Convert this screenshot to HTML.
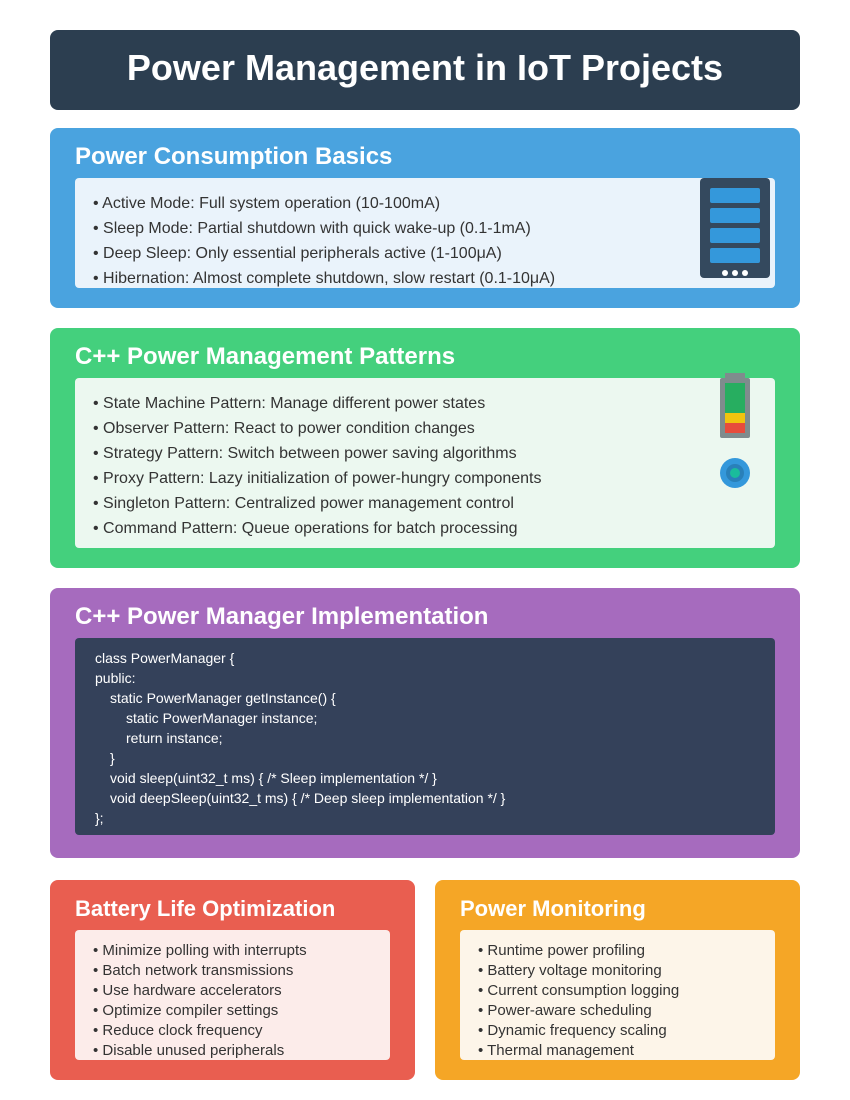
<!DOCTYPE html>
<html><head><meta charset="utf-8"><style>body{margin:0;background:#fff}svg{display:block}text{font-family:"Liberation Sans",Arial,sans-serif}</style></head><body>
<svg width="850" height="1100" viewBox="0 0 850 1100" xmlns="http://www.w3.org/2000/svg">
<rect x="50" y="30" width="750" height="80" rx="8" fill="#2c3e50"/>
<text x="425" y="80" text-anchor="middle" font-size="36" font-weight="bold" fill="#fff">Power Management in IoT Projects</text>

<rect x="50" y="128" width="750" height="180" rx="8" fill="#4aa3df"/>
<text x="75" y="164" font-size="24" font-weight="bold" fill="#fff">Power Consumption Basics</text>
<rect x="75" y="178" width="700" height="110" rx="4" fill="#eaf3fb"/>
<g font-size="16" fill="#333">
<text x="93" y="208">• Active Mode: Full system operation (10-100mA)</text>
<text x="93" y="233">• Sleep Mode: Partial shutdown with quick wake-up (0.1-1mA)</text>
<text x="93" y="258">• Deep Sleep: Only essential peripherals active (1-100μA)</text>
<text x="93" y="283">• Hibernation: Almost complete shutdown, slow restart (0.1-10μA)</text>
</g>
<rect x="700" y="178" width="70" height="100" rx="4" fill="#34495e"/>
<rect x="710" y="188" width="50" height="15" rx="2" fill="#3498db"/>
<rect x="710" y="208" width="50" height="15" rx="2" fill="#3498db"/>
<rect x="710" y="228" width="50" height="15" rx="2" fill="#3498db"/>
<rect x="710" y="248" width="50" height="15" rx="2" fill="#3498db"/>
<circle cx="725" cy="273" r="3" fill="#fff"/><circle cx="735" cy="273" r="3" fill="#fff"/><circle cx="745" cy="273" r="3" fill="#fff"/>

<rect x="50" y="328" width="750" height="240" rx="8" fill="#44d07d"/>
<text x="75" y="364" font-size="24" font-weight="bold" fill="#fff">C++ Power Management Patterns</text>
<rect x="75" y="378" width="700" height="170" rx="4" fill="#ecf8f0"/>
<g font-size="16" fill="#333">
<text x="93" y="408">• State Machine Pattern: Manage different power states</text>
<text x="93" y="433">• Observer Pattern: React to power condition changes</text>
<text x="93" y="458">• Strategy Pattern: Switch between power saving algorithms</text>
<text x="93" y="483">• Proxy Pattern: Lazy initialization of power-hungry components</text>
<text x="93" y="508">• Singleton Pattern: Centralized power management control</text>
<text x="93" y="533">• Command Pattern: Queue operations for batch processing</text>
</g>
<rect x="725" y="373" width="20" height="6" fill="#7f8c8d"/>
<rect x="720" y="378" width="30" height="60" rx="2" fill="#7f8c8d"/>
<rect x="725" y="383" width="20" height="30" fill="#27ae60"/>
<rect x="725" y="413" width="20" height="10" fill="#f1c40f"/>
<rect x="725" y="423" width="20" height="10" fill="#e74c3c"/>
<circle cx="735" cy="473" r="15" fill="#3498db"/><circle cx="735" cy="473" r="9" fill="#2980b9"/><circle cx="735" cy="473" r="5" fill="#1abc9c"/>

<rect x="50" y="588" width="750" height="270" rx="8" fill="#a66bbe"/>
<text x="75" y="624" font-size="24" font-weight="bold" fill="#fff">C++ Power Manager Implementation</text>
<rect x="75" y="638" width="700" height="197" rx="4" fill="#34415a"/>
<g font-size="14" fill="#fff">
<text x="95" y="663">class PowerManager {</text>
<text x="95" y="683">public:</text>
<text x="110" y="703">static PowerManager getInstance() {</text>
<text x="126" y="723">static PowerManager instance;</text>
<text x="126" y="743">return instance;</text>
<text x="110" y="763">}</text>
<text x="110" y="783">void sleep(uint32_t ms) { /* Sleep implementation */ }</text>
<text x="110" y="803">void deepSleep(uint32_t ms) { /* Deep sleep implementation */ }</text>
<text x="95" y="823">};</text>
</g>

<rect x="50" y="880" width="365" height="200" rx="8" fill="#e95e50"/>
<text x="75" y="916" font-size="22" font-weight="bold" fill="#fff">Battery Life Optimization</text>
<rect x="75" y="930" width="315" height="130" rx="4" fill="#fcecea"/>
<g font-size="15" fill="#333">
<text x="93" y="955">• Minimize polling with interrupts</text>
<text x="93" y="975">• Batch network transmissions</text>
<text x="93" y="995">• Use hardware accelerators</text>
<text x="93" y="1015">• Optimize compiler settings</text>
<text x="93" y="1035">• Reduce clock frequency</text>
<text x="93" y="1055">• Disable unused peripherals</text>
</g>

<rect x="435" y="880" width="365" height="200" rx="8" fill="#f5a626"/>
<text x="460" y="916" font-size="22" font-weight="bold" fill="#fff">Power Monitoring</text>
<rect x="460" y="930" width="315" height="130" rx="4" fill="#fdf5e9"/>
<g font-size="15" fill="#333">
<text x="478" y="955">• Runtime power profiling</text>
<text x="478" y="975">• Battery voltage monitoring</text>
<text x="478" y="995">• Current consumption logging</text>
<text x="478" y="1015">• Power-aware scheduling</text>
<text x="478" y="1035">• Dynamic frequency scaling</text>
<text x="478" y="1055">• Thermal management</text>
</g>
</svg>
</body></html>
